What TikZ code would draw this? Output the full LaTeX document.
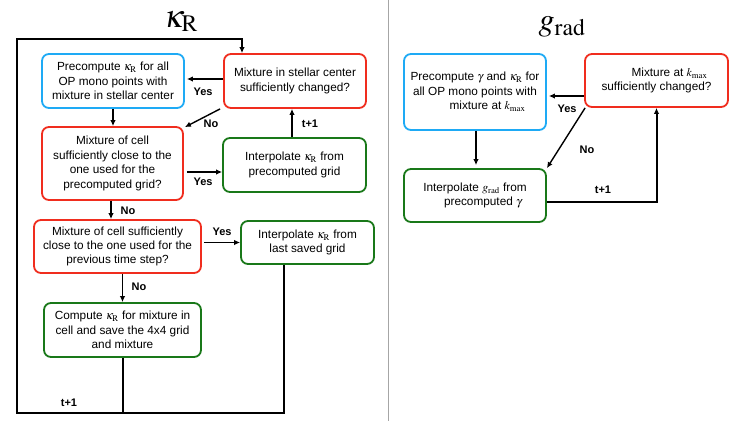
\documentclass[tikz,border=0pt]{standalone}
\usepackage{mathptmx}
\usepackage[no-math]{fontspec}
\setmainfont{Liberation Sans}
\usetikzlibrary{arrows.meta}
\definecolor{bblue}{RGB}{30,170,245}
\definecolor{rred}{RGB}{240,45,30}
\definecolor{ggreen}{RGB}{25,120,25}
\newcommand{\kR}{\ensuremath{\kappa_{\mathrm{R}}}}
\newcommand{\kmax}{\ensuremath{k_{\mathrm{max}}}}
\newcommand{\grad}{\ensuremath{g_{\mathrm{rad}}}}
\begin{document}
\begin{tikzpicture}[x=1pt,y=-1pt,
  box/.style={draw, rounded corners=7pt, line width=1.8pt, fill=white, align=center,
    font=\fontsize{11.8}{14.4}\selectfont, inner sep=0pt},
  bluebox/.style={box, draw=bblue},
  redbox/.style={box, draw=rred},
  greenbox/.style={box, draw=ggreen},
  arr/.style={-{Latex[length=6pt,width=5.5pt]}, line width=1.4pt},
  loopline/.style={line width=2pt},
  looparr/.style={loopline, -{Latex[length=6pt,width=5.5pt]}},
  lbl/.style={font=\bfseries\fontsize{11}{12}\selectfont, inner sep=0pt},
  title/.style={font=\fontsize{32}{32}\selectfont, inner sep=0pt, anchor=base}]
\useasboundingbox (0,0) rectangle (747,421);
\fill[white] (0,0) rectangle (747,421);

% separator
\coordinate (sepT) at (388,0);
\coordinate (sepB) at (388,421);
\draw[gray!70, line width=1pt] (sepT) -- (sepB);

% titles
\node[title] (tL) at (181,27) {$\kappa_{\mathrm{R}}$};
\node[title] (tR) at (562,30) {$g_{\mathrm{rad}}$};

% left boxes
\node[bluebox, minimum width=142pt, minimum height=54pt] (L1) at (113,81)
  {Precompute \kR\ for all\\OP mono points with\\mixture in stellar center};
\node[redbox, minimum width=142pt, minimum height=54pt] (L2) at (295,81)
  {Mixture in stellar center\\sufficiently changed?};
\node[redbox, minimum width=141pt, minimum height=73pt] (L3) at (112.5,163.5)
  {Mixture of cell\\sufficiently close to the\\one used for the\\precomputed grid?};
\node[greenbox, minimum width=143pt, minimum height=54pt] (L4) at (294.5,165)
  {Interpolate \kR\ from\\precomputed grid};
\node[redbox, minimum width=167pt, minimum height=53pt] (L5) at (117.5,246.5)
  {Mixture of cell sufficiently\\close to the one used for the\\previous time step?};
\node[greenbox, minimum width=133pt, minimum height=43pt] (L6) at (307.5,242.5)
  {Interpolate \kR\ from\\last saved grid};
\node[greenbox, minimum width=157pt, minimum height=54pt] (L7) at (122.5,330)
  {Compute \kR\ for mixture in\\cell and save the 4x4 grid\\and mixture};

% left connectors
\coordinate (bl) at (17,413);
\coordinate (tl) at (17,39);
\coordinate (tr) at (242,39);
\coordinate (br) at (284,413);
\draw[looparr] (br |- L6.south) -- (br) -- (bl) -- (tl) -- (tr) -- (tr |- L2.north);
\draw[loopline] (L7.south) -- (L7.south |- bl);
\node[lbl] (t1a) at (69,403) {t+1};

\draw[arr] ([yshift=2pt]L2.west) -- ([yshift=2pt,xshift=2pt]L1.east);
\node[lbl] (y1) at (203,92) {Yes};
\draw[arr] ([xshift=-3pt]L2.south west) -- ([xshift=1pt,yshift=-1pt]L3.north east);
\node[lbl] (n1) at (211,124) {No};
\draw[arr] (L1.south) -- (L1.south |- L3.north);
\draw[arr] ([xshift=-2.5pt]L4.north) -- ([xshift=-2.5pt]L4.north |- L2.south);
\node[lbl] (t1b) at (310,124) {t+1};
\draw[arr] ([xshift=3pt,yshift=-8.5pt]L3.east) -- ([yshift=-7pt]L4.west);
\node[lbl] (y2) at (203,182) {Yes};
\draw[arr] ([xshift=-1.5pt]L3.south) -- ([xshift=-1.5pt]L3.south |- L5.north);
\node[lbl] (n2) at (128,211) {No};
\draw[arr] ([xshift=2pt]L5.east |- L6.west) -- (L6.west);
\node[lbl] (y3) at (222,232) {Yes};
\draw[arr] (L7.north |- L5.south) -- (L7.north);
\node[lbl] (n3) at (139,287) {No};

% right boxes
\node[bluebox, minimum width=142pt, minimum height=76pt] (R1) at (475,92)
  {Precompute $\gamma$ and \kR\ for\\all OP mono points with\\\hspace*{25pt}mixture at \kmax};
\node[redbox, minimum width=143pt, minimum height=53pt] (R2) at (656.5,80.5)
  {\hspace*{26pt}Mixture at \kmax\\sufficiently changed?};
\node[greenbox, minimum width=142pt, minimum height=53pt] (R3) at (475,195.5)
  {Interpolate \grad\ from\\\hspace*{16pt}precomputed $\gamma$};

% right connectors
\draw[arr] ([yshift=-15.5pt]R2.west) -- ([xshift=2pt,yshift=-4pt]R1.east);
\node[lbl] (y4) at (567,109) {Yes};
\draw[arr] ([xshift=1pt]R2.south west) -- (R3.north east);
\node[lbl] (n4) at (587,150) {No};
\draw[arr, shorten >=3pt] ([xshift=1pt]R1.south) -- ([xshift=1pt]R3.north);
\draw[looparr] ([yshift=-6.5pt]R3.east) -| (R2.south);
\node[lbl] (t1c) at (603,190) {t+1};
\end{tikzpicture}
\end{document}
